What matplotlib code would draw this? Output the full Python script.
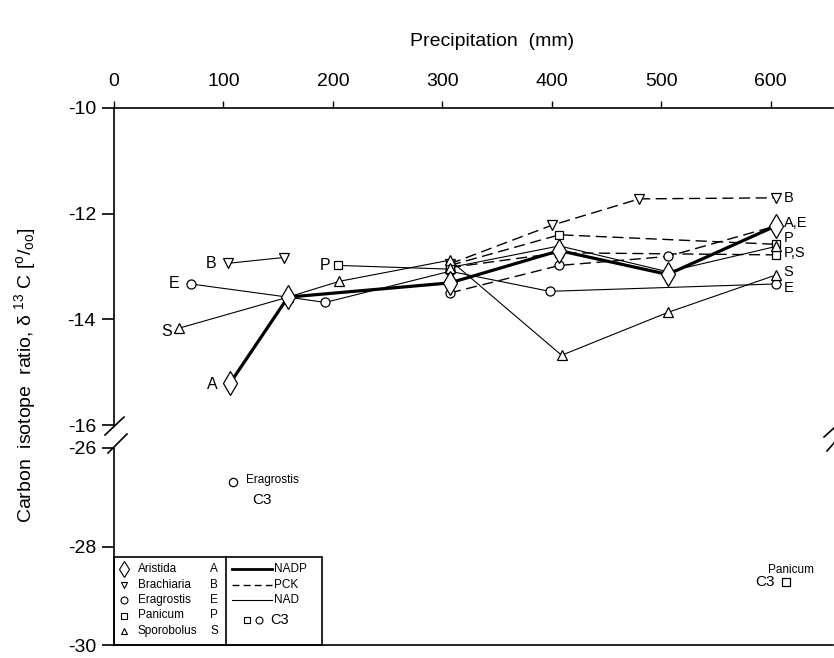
import matplotlib.pyplot as plt
from matplotlib.lines import Line2D
from matplotlib.patches import Rectangle

plt.rcParams['font.family'] = ['Liberation Sans', 'DejaVu Sans']
plt.rcParams['axes.unicode_minus'] = False

# precipitation (mm) and delta 13C values
# Aristida (NADP)
a_x = [106, 159, 307, 407, 506, 605]
a_y = [-15.21, -13.58, -13.31, -12.70, -13.15, -12.23]
# Brachiaria
b1_x = [104, 155]
b1_y = [-12.94, -12.83]
b2_x = [307, 400, 480, 605]
b2_y = [-12.95, -12.22, -11.72, -11.70]
# Eragrostis
e1_x = [70, 159, 193, 307, 398, 605]
e1_y = [-13.33, -13.58, -13.68, -13.09, -13.47, -13.33]
e2_x = [307, 407, 506, 605]
e2_y = [-13.50, -12.98, -12.81, -12.23]
# Panicum
p1_x = [205, 307]
p1_y = [-12.98, -13.05]
p2_x = [307, 407, 605]
p2_y = [-12.98, -12.40, -12.58]
p3_x = [307, 407, 605]
p3_y = [-13.02, -12.74, -12.78]
# Sporobolus
s1_x = [59, 159, 206, 307, 409, 506, 605]
s1_y = [-14.17, -13.58, -13.28, -12.88, -14.68, -13.87, -13.16]
s2_x = [307, 407, 506, 605]
s2_y = [-13.02, -12.61, -13.10, -12.62]
# C3 grasses
c3_e_x, c3_e_y = [109], [-26.69]
c3_p_x, c3_p_y = [614], [-28.73]

# (x, y, marker, linestyle, linewidth, markersize)
dash = (0, (8, 4))
series = [
    (b1_x, b1_y, 'v', '-', 0.8, 7),
    (b2_x, b2_y, 'v', dash, 1.0, 7),
    (e1_x, e1_y, 'o', '-', 0.8, 6.5),
    (e2_x, e2_y, 'o', dash, 1.0, 6.5),
    (p1_x, p1_y, 's', '-', 0.8, 6),
    (p2_x, p2_y, 's', dash, 1.0, 6),
    (p3_x, p3_y, 's', dash, 1.0, 6),
    (s1_x, s1_y, '^', '-', 0.8, 7),
    (s2_x, s2_y, '^', '-', 0.8, 7),
    (a_x, a_y, 'd', '-', 2.3, 12),
]

W, H = 834, 658
def fx(px):
    return px / W
def fy(py):
    return 1 - py / H

fig = plt.figure(figsize=(8.34, 6.58), dpi=100)
ax1 = fig.add_axes([fx(114), fy(425), fx(833) - fx(114), fy(108) - fy(425)])
ax2 = fig.add_axes([fx(114), fy(645), fx(833) - fx(114), fy(448) - fy(645)])

for x, y, m, ls, lw, ms in series:
    ax1.plot(x, y, color='black', ls=ls, lw=lw, zorder=2)
for x, y, m, ls, lw, ms in series:
    ax1.plot(x, y, ls='none', marker=m, ms=ms, mfc='white', mec='black', mew=0.9, zorder=3)

ax2.plot(c3_e_x, c3_e_y, ls='none', marker='o', ms=6, mfc='white', mec='black', mew=0.9)
ax2.plot(c3_p_x, c3_p_y, ls='none', marker='s', ms=5.5, mfc='white', mec='black', mew=0.9)

for ax in (ax1, ax2):
    ax.set_xlim(0, 657)
    ax.spines['right'].set_visible(False)
    ax.spines['left'].set_linewidth(1.2)
    ax.tick_params(axis='y', direction='out', length=9, width=1.2, pad=4, labelsize=14)

ax1.set_ylim(-16, -10)
ax1.set_yticks([-10, -12, -14, -16])
ax1.spines['bottom'].set_visible(False)
ax1.spines['top'].set_linewidth(1.2)
ax1.set_xticks([0, 100, 200, 300, 400, 500, 600])
ax1.tick_params(axis='x', top=True, bottom=False, labeltop=True, labelbottom=False,
                direction='out', length=5, width=1.0, pad=8, labelsize=14)

ax2.set_ylim(-30, -26)
ax2.set_yticks([-26, -28, -30])
ax2.spines['top'].set_visible(False)
ax2.spines['bottom'].set_linewidth(1.2)
ax2.set_xticks([])

# letters beside the series
lab = dict(fontsize=11.5, va='center', ha='center')
ax1.text(89, -12.94, 'B', **lab)
ax1.text(55, -13.33, 'E', **lab)
ax1.text(48, -14.23, 'S', **lab)
ax1.text(90, -15.24, 'A', **lab)
ax1.text(193, -12.98, 'P', **lab)
rlab = dict(fontsize=10.5, va='center', ha='left')
ax1.text(612, -11.70, 'B', **rlab)
ax1.text(612, -12.17, 'A,E', **rlab)
ax1.text(612, -12.46, 'P', **rlab)
ax1.text(612, -12.75, 'P,S', **rlab)
ax1.text(612, -13.10, 'S', **rlab)
ax1.text(612, -13.40, 'E', **rlab)

ax2.text(121, -26.65, 'Eragrostis', fontsize=8.5, va='center', ha='left')
ax2.text(135, -27.05, 'C3', fontsize=11, va='center', ha='center')
ax2.text(619, -28.47, 'Panicum', fontsize=8.5, va='center', ha='center')
ax2.text(595, -28.73, 'C3', fontsize=11, va='center', ha='center')

# titles
fig.text(fx(492), fy(42), 'Precipitation  (mm)', ha='center', va='center', fontsize=14)
fig.text(fx(25), fy(375), 'Carbon  isotope  ratio, δ $\\mathregular{^{13}}$ C [$\\mathregular{^{o}/_{oo}}$]',
         rotation=90, ha='center', va='center', fontsize=14)

# axis break marks
def fline(x0, y0, x1, y1, lw=1.2, ls='-'):
    fig.add_artist(Line2D([fx(x0), fx(x1)], [fy(y0), fy(y1)], color='black', lw=lw, ls=ls))

fline(105, 435, 124, 417)
fline(108, 453, 127, 434)
fline(824, 437, 834, 428)
fline(827, 451, 834, 443)

# legend box
fig.add_artist(Rectangle((fx(114), fy(645)), fx(322) - fx(114), fy(557) - fy(645),
                         transform=fig.transFigure, fill=False, ec='black', lw=1.2))
fline(226, 557, 226, 645)
names = ['Aristida', 'Brachiaria', 'Eragrostis', 'Panicum', 'Sporobolus']
letters = ['A', 'B', 'E', 'P', 'S']
markers = ['d', 'v', 'o', 's', '^']
for i in range(5):
    yy = 569 + i * 15.5
    fig.add_artist(Line2D([fx(124)], [fy(yy)], marker=markers[i], ms=8 if i == 0 else 5,
                          mfc='white', mec='black', mew=0.8, ls='none'))
    fig.text(fx(138), fy(yy), names[i], fontsize=8.5, va='center', ha='left')
    fig.text(fx(214), fy(yy), letters[i], fontsize=8.5, va='center', ha='center')
styles = [('-', 2.0, 'NADP'), ((0, (5, 3)), 1.0, 'PCK'), ('-', 0.8, 'NAD')]
for i, (ls, lw, name) in enumerate(styles):
    yy = 569 + i * 15.5
    fline(232, yy, 272, yy, lw=lw, ls=ls)
    fig.text(fx(274), fy(yy), name, fontsize=8.5, va='center', ha='left')
fig.add_artist(Line2D([fx(247)], [fy(620)], marker='s', ms=5, mfc='white', mec='black', mew=0.8))
fig.add_artist(Line2D([fx(259)], [fy(620)], marker='o', ms=5, mfc='white', mec='black', mew=0.8))
fig.text(fx(270), fy(620), 'C3', fontsize=10.5, va='center', ha='left')

fig.savefig('out.png', dpi=100)
